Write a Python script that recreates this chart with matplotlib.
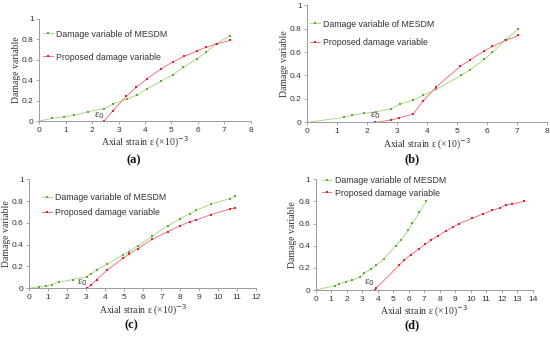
import matplotlib
matplotlib.use("Agg")
import matplotlib.pyplot as plt

# Panel (a)
a_green_x = [0, 0.47, 0.95, 1.32, 1.83, 2.46, 2.79, 3.31, 3.70, 4.09, 4.62, 5.06, 5.46, 5.97, 6.31, 6.71, 7.22]
a_green_y = [0, 0.026, 0.042, 0.056, 0.092, 0.121, 0.167, 0.216, 0.255, 0.317, 0.392, 0.454, 0.526, 0.611, 0.673, 0.758, 0.837]
a_red_x = [2.45, 2.79, 3.29, 3.67, 4.09, 4.62, 5.05, 5.49, 5.96, 6.31, 6.74, 7.24]
a_red_y = [0, 0.10, 0.242, 0.33, 0.415, 0.513, 0.578, 0.634, 0.686, 0.722, 0.758, 0.791]

# Panel (b)
b_green_x = [0, 1.23, 1.49, 1.91, 2.31, 2.80, 3.09, 3.53, 3.88, 4.32, 5.13, 5.43, 5.92, 6.19, 6.61, 7.06]
b_green_y = [0, 0.043, 0.06, 0.077, 0.091, 0.116, 0.156, 0.188, 0.23, 0.281, 0.40, 0.446, 0.537, 0.597, 0.699, 0.798]
b_red_x = [2.28, 2.80, 3.08, 3.54, 3.88, 4.32, 5.12, 5.43, 5.91, 6.19, 6.63, 7.06]
b_red_y = [0, 0.02, 0.04, 0.071, 0.185, 0.304, 0.48, 0.531, 0.608, 0.648, 0.699, 0.741]

# Panel (c)
c_green_x = [0, 0.49, 0.88, 1.18, 1.55, 2.29, 3.04, 3.25, 3.56, 4.13, 4.98, 5.26, 5.75, 6.51, 7.32, 7.99, 8.52, 8.84, 9.60, 10.62, 10.91]
c_green_y = [0, 0.015, 0.021, 0.034, 0.055, 0.080, 0.107, 0.131, 0.171, 0.22, 0.309, 0.336, 0.388, 0.477, 0.572, 0.639, 0.685, 0.716, 0.771, 0.823, 0.844]
c_red_x = [3.04, 3.28, 3.56, 4.13, 4.98, 5.26, 5.75, 6.51, 7.32, 7.99, 8.52, 8.84, 9.60, 10.62, 10.91]
c_red_y = [0, 0.031, 0.08, 0.168, 0.278, 0.312, 0.364, 0.45, 0.52, 0.575, 0.612, 0.627, 0.676, 0.728, 0.737]

# Panel (d)
d_green_x = [0, 1.23, 1.51, 1.94, 2.37, 2.86, 3.14, 3.59, 3.91, 4.39, 5.16, 5.48, 5.98, 6.24, 6.69, 7.12]
d_green_y = [0, 0.039, 0.057, 0.075, 0.09, 0.117, 0.156, 0.186, 0.225, 0.279, 0.40, 0.447, 0.538, 0.601, 0.70, 0.799]
d_red_x = [3.81, 3.91, 5.40, 5.70, 6.15, 6.67, 7.08, 7.42, 7.91, 8.39, 8.86, 9.23, 10.09, 10.80, 11.40, 11.89, 12.26, 12.65, 13.42]
d_red_y = [0, 0.018, 0.225, 0.27, 0.32, 0.372, 0.414, 0.45, 0.49, 0.532, 0.568, 0.598, 0.646, 0.688, 0.718, 0.742, 0.766, 0.775, 0.799]

y_ticks = [0, 0.2, 0.4, 0.6, 0.8, 1]
y_ticklabels = ["0", "0.2", "0.4", "0.6", "0.8", "1"]
green_label = "Damage variable of MESDM"
red_label = "Proposed damage variable"
xlabel = "Axial strain ε (×10)$^{-3}$"
ylabel = "Damage variable"
panel_labels = ["(a)", "(b)", "(c)", "(d)"]

GREEN_LINE = "#a8da86"
GREEN_MK = "#5eab38"
RED_LINE = "#ee7780"
RED_MK = "#e02030"
SPINE = "#9a9a9a"
TXT = "#333333"

fig = plt.figure(figsize=(5.5, 3.39), dpi=100)

panels = [
    dict(rect=[0.0715, 0.643, 0.384, 0.301], xmax=8, gx=a_green_x, gy=a_green_y, rx=a_red_x, ry=a_red_y,
         eps=(2.26, 0.055), leg=(0.019, 0.74), legsp=1.6, lab=(134, 160)),
    dict(rect=[0.5587, 0.639, 0.435, 0.346], xmax=8, gx=b_green_x, gy=b_green_y, rx=b_red_x, ry=b_red_y,
         eps=(2.26, 0.058), leg=(0.011, 0.761), legsp=1.05, lab=(412, 159)),
    dict(rect=[0.0533, 0.1496, 0.412, 0.3215], xmax=12, gx=c_green_x, gy=c_green_y, rx=c_red_x, ry=c_red_y,
         eps=(2.79, 0.05), leg=(0.056, 0.767), legsp=0.7, lab=(131, 325)),
    dict(rect=[0.574, 0.1445, 0.3945, 0.327], xmax=14, gx=d_green_x, gy=d_green_y, rx=d_red_x, ry=d_red_y,
         eps=(3.46, 0.07), leg=(0.028, 0.93), legsp=0.37, lab=(412, 325)),
]

for i, p in enumerate(panels):
    ax = fig.add_axes(p["rect"])
    ax.plot(p["gx"], p["gy"], color=GREEN_LINE, lw=0.7, marker="s", ms=1.8, mew=0,
            mfc=GREEN_MK, label=green_label)
    ax.plot(p["rx"], p["ry"], color=RED_LINE, lw=0.7, marker="s", ms=1.8, mew=0,
            mfc=RED_MK, label=red_label)
    ax.set_xlim(0, p["xmax"])
    ax.set_ylim(0, 1)
    ax.set_xticks(range(0, p["xmax"] + 1))
    ax.set_yticks(y_ticks)
    ax.set_yticklabels(y_ticklabels)
    for s in ["top", "right"]:
        ax.spines[s].set_visible(False)
    for s in ["left", "bottom"]:
        ax.spines[s].set_color(SPINE)
        ax.spines[s].set_linewidth(0.7)
    ax.tick_params(axis="both", length=2.5, width=0.6, color=SPINE, labelsize=6,
                   labelcolor=TXT, pad=1.5)
    for t in ax.get_xticklabels() + ax.get_yticklabels():
        t.set_family("Liberation Sans")
    ax.set_xlabel(xlabel, fontsize=7, family="Liberation Serif", color=TXT, labelpad=1)
    ax.set_ylabel(ylabel, fontsize=7, family="Liberation Serif", color=TXT, labelpad=1)
    ax.text(p["eps"][0], p["eps"][1], "ε$_0$", fontsize=7.5, family="Liberation Serif",
            color=TXT, ha="center", va="center")
    leg = ax.legend(loc="center left", bbox_to_anchor=p["leg"], frameon=False,
                    prop={"family": "Liberation Sans", "size": 6.3}, handlelength=1.1,
                    handletextpad=0.4, labelspacing=p["legsp"], borderaxespad=0, borderpad=0)
    for t in leg.get_texts():
        t.set_color(TXT)
    fig.text(p["lab"][0] / 550, 1 - p["lab"][1] / 339, panel_labels[i], fontsize=9,
             fontweight="bold", family="Liberation Serif", ha="center", va="center",
             color="#111111")

fig.savefig("out.png", dpi=100)
